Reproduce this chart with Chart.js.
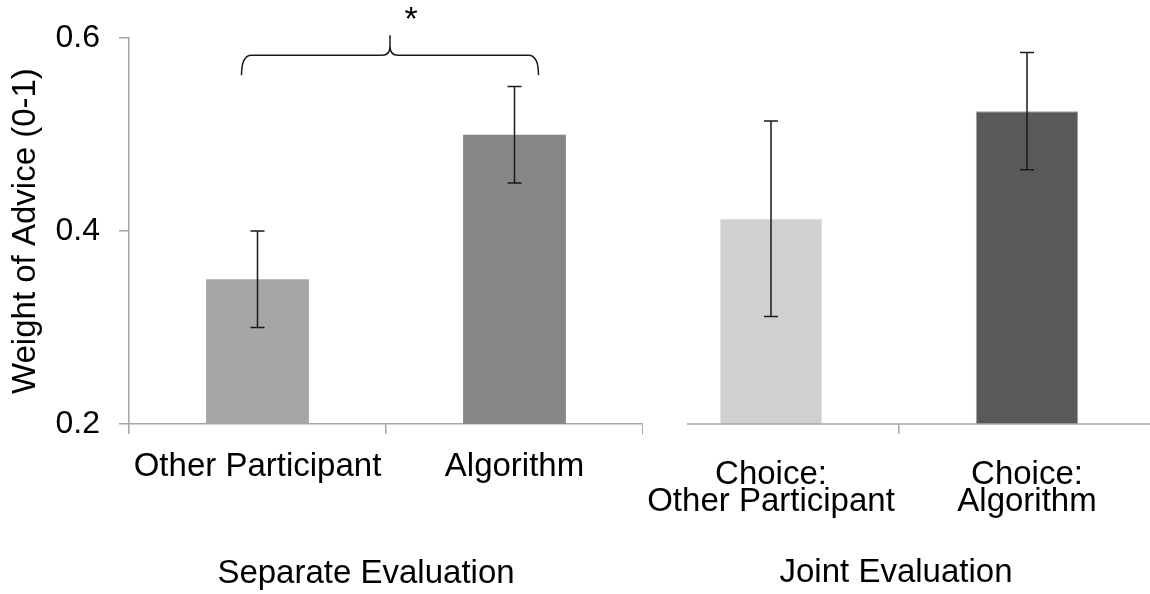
<!DOCTYPE html>
<html>
<head>
<meta charset="utf-8">
<script src="https://cdn.jsdelivr.net/npm/chart.js@4/dist/chart.umd.min.js"></script>
<style>
  html, body { margin: 0; padding: 0; background: #fff; overflow: hidden; width: 1150px; height: 594px; }
  #leftChart { position: absolute; left: 0; top: 0; }
  #rightChart { position: absolute; left: 643px; top: 0; }
</style>
</head>
<body>
<canvas id="leftChart" width="643" height="594"></canvas>
<canvas id="rightChart" width="512" height="594"></canvas>
<script>
const sepLabels = ['Other Participant', 'Algorithm'];
const sepMeans = [0.35, 0.50];
const sepLow = [0.30, 0.45];
const sepHigh = [0.40, 0.55];
const sepColors = ['#a6a6a6', '#868686'];

const jointLabels = [['Choice:', 'Other Participant'], ['Choice:', 'Algorithm']];
const jointMeans = [0.41, 0.52];
const jointLow = [0.31, 0.46];
const jointHigh = [0.51, 0.58];
const jointColors = ['#d0d0d0', '#595959'];
const jointBorders = ['#dedede', '#a0a0a0'];

const yTicks = [0.2, 0.4, 0.6];
const yTitle = 'Weight of Advice (0-1)';
const sepTitle = 'Separate Evaluation';
const jointTitle = 'Joint Evaluation';

const FONT = 'Liberation Sans';
const AXIS = '#a6a6a6';

// whiskers on top of the bars
const errorBars = {
    id: 'errorBars',
    afterDatasetsDraw(chart, args, opts){
        const c = chart.ctx;
        const ys = chart.scales.y;
        const meta = chart.getDatasetMeta(0);
        c.save();
        c.strokeStyle = '#1a1a1a';
        c.lineWidth = 1.5;
        meta.data.forEach((bar, i)=>{
            const top = ys.getPixelForValue(opts.high[i]);
            const bot = ys.getPixelForValue(opts.low[i]);
            c.beginPath();
            c.moveTo(bar.x, top); c.lineTo(bar.x, bot);
            c.moveTo(bar.x-7, top); c.lineTo(bar.x+7, top);
            c.moveTo(bar.x-7, bot); c.lineTo(bar.x+7, bot);
            c.stroke();
        });
        c.restore();
    }
};

// group title under the category labels
const groupTitle = {
    id: 'groupTitle',
    afterDraw(chart, args, opts){
        const c = chart.ctx;
        c.save();
        c.font = '33px "' + FONT + '"';
        c.fillStyle = '#000';
        c.textAlign = 'center';
        c.textBaseline = 'alphabetic';
        c.fillText(opts.text, opts.x, opts.y);
        c.restore();
    }
};

// brace with asterisk over the two separate-evaluation bars
const brace = {
    id: 'brace',
    afterDraw(chart){
        const c = chart.ctx;
        const xs = chart.scales.x;
        const top = chart.chartArea.top;
        const l = xs.getPixelForValue(0) - 16;
        const r = xs.getPixelForValue(1) + 24;
        const m = (l + r) / 2;
        const yl = top + 17, ye = top + 37, yc = top - 3;
        c.save();
        c.strokeStyle = '#1a1a1a';
        c.lineWidth = 1.5;
        c.beginPath();
        c.moveTo(l, ye);
        c.quadraticCurveTo(l, yl, l + 10, yl);
        c.lineTo(m - 8, yl);
        c.quadraticCurveTo(m, yl, m, yl - 9);
        c.lineTo(m, yc);
        c.moveTo(m, yl - 9);
        c.quadraticCurveTo(m, yl, m + 8, yl);
        c.lineTo(r - 10, yl);
        c.quadraticCurveTo(r, yl, r, ye);
        c.stroke();
        c.font = '34px "' + FONT + '"';
        c.fillStyle = '#000';
        c.textAlign = 'center';
        c.textBaseline = 'alphabetic';
        c.fillText('*', m + 21, 30);
        c.restore();
    }
};

// right panel axis line starts a little inside the plot
const jointAxis = {
    id: 'jointAxis',
    afterDraw(chart){
        const c = chart.ctx;
        const a = chart.chartArea;
        c.save();
        c.strokeStyle = AXIS;
        c.lineWidth = 1.5;
        c.beginPath();
        c.moveTo(a.left + 44, a.bottom);
        c.lineTo(a.right, a.bottom);
        c.stroke();
        c.restore();
    }
};

function fitX(s){
    s.height = 170;
    s.paddingLeft = 0;
    s.paddingRight = 0;
}

function yScale(show){
    return {
        display: show,
        min: yTicks[0],
        max: yTicks[yTicks.length-1],
        afterBuildTicks: s => { s.ticks = yTicks.map(v => ({ value: v })); },
        afterFit: s => { s.width = show ? 129 : 0; },
        grid: { drawOnChartArea: false, tickLength: 10, color: AXIS, lineWidth: 1.5 },
        border: { color: AXIS, width: 1.5 },
        ticks: { padding: 19, color: '#000', font: { family: FONT, size: 32 }, callback: v => v.toFixed(1) },
        title: { display: show, text: yTitle, color: '#000', font: { family: FONT, size: 33 }, padding: { top: 6, bottom: 0 } }
    };
}

const leftChart = new Chart(document.getElementById('leftChart').getContext('2d'), {
    type: 'bar',
    data: { labels: sepLabels, datasets: [{ data: sepMeans, backgroundColor: sepColors, borderWidth: 0, categoryPercentage: 1, barPercentage: 0.4 }] },
    options: {
        responsive: false,
        animation: false,
        layout: { padding: { top: 33, left: 0, right: 0, bottom: 0 } },
        plugins: {
            legend: { display: false }, tooltip: { enabled: false },
            errorBars: { low: sepLow, high: sepHigh },
            groupTitle: { text: sepTitle, x: 366, y: 583 }
        },
        scales: {
            x: {
                offset: true,
                afterFit: fitX,
                grid: { offset: true, drawOnChartArea: false, tickLength: 10, color: AXIS, lineWidth: 1.5 },
                border: { color: AXIS, width: 1.5 },
                ticks: { padding: 13, color: '#000', maxRotation: 0, font: { family: FONT, size: 33 } }
            },
            y: yScale(true)
        }
    },
    plugins: [errorBars, groupTitle, brace]
});

const rightChart = new Chart(document.getElementById('rightChart').getContext('2d'), {
    type: 'bar',
    data: { labels: jointLabels, datasets: [{ data: jointMeans, backgroundColor: jointColors, borderColor: jointBorders, borderWidth: 1, categoryPercentage: 1, barPercentage: 0.4 }] },
    options: {
        responsive: false,
        animation: false,
        layout: { padding: { top: 33, left: 0, right: 0, bottom: 0 } },
        plugins: {
            legend: { display: false }, tooltip: { enabled: false },
            errorBars: { low: jointLow, high: jointHigh },
            groupTitle: { text: jointTitle, x: 253, y: 582 }
        },
        scales: {
            x: {
                offset: true,
                afterFit: fitX,
                grid: { offset: true, drawOnChartArea: false, tickLength: 10, lineWidth: 1.5,
                        color: c => c.index === 1 ? AXIS : 'rgba(0,0,0,0)' },
                border: { display: false },
                ticks: { padding: 27, color: '#000', maxRotation: 0, font: { family: FONT, size: 33, lineHeight: '27px' } }
            },
            y: yScale(false)
        }
    },
    plugins: [errorBars, groupTitle, jointAxis]
});
</script>
</body>
</html>
